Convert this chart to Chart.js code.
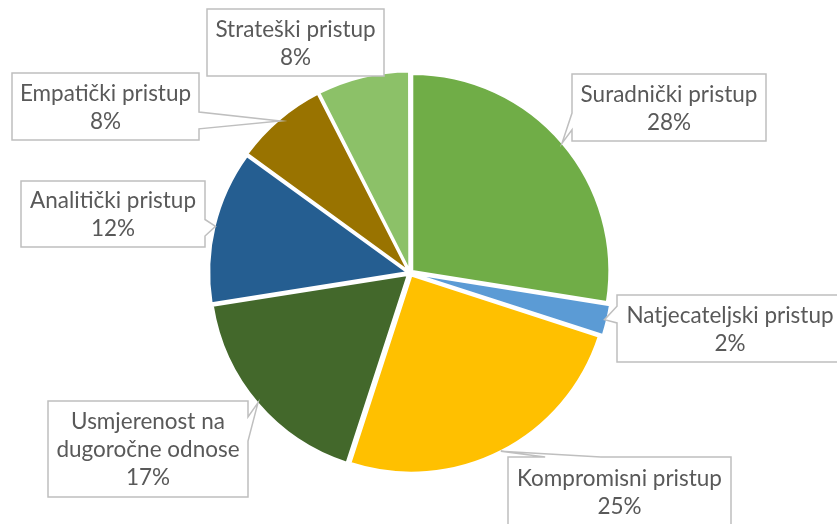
<!DOCTYPE html>
<html>
<head>
<meta charset="utf-8">
<script src="https://cdn.jsdelivr.net/npm/chart.js@4.4.1/dist/chart.umd.min.js"></script>
<style>
  html, body { margin: 0; padding: 0; background: #fff; }
  #wrap { width: 837px; height: 524px; }
</style>
</head>
<body>
<div id="wrap"><canvas id="pieChart" width="837" height="524"></canvas></div>
<script>
// chart data
const categories = [
  'Suradnički pristup',
  'Natjecateljski pristup',
  'Kompromisni pristup',
  'Usmjerenost na dugoročne odnose',
  'Analitički pristup',
  'Empatički pristup',
  'Strateški pristup'
];
const shares = [27.5, 2.5, 25, 17.5, 12.5, 7.5, 7.5];
const pctLabels = ['28%', '2%', '25%', '17%', '12%', '8%', '8%'];
const sliceColors = ['#70AD47', '#5B9BD5', '#FFC000', '#43682B', '#255E91', '#997300', '#8CC168'];

// where the callout boxes sit (placed by hand, like in the original)
const labelBoxes = [
  {x: 572, y: 74, w: 194, h: 67},
  {x: 617, y: 295, w: 226, h: 67},
  {x: 508, y: 457, w: 223, h: 70},
  {x: 48, y: 401, w: 200, h: 96},
  {x: 21, y: 181, w: 184, h: 66},
  {x: 12, y: 73, w: 187, h: 67},
  {x: 207, y: 9, w: 177, h: 67}
];

const FONT = '22.5px Lato, "Open Sans", sans-serif';

function wrapText(ctx, text, maxW) {
  const words = text.split(' ');
  const lines = [];
  let cur = '';
  words.forEach(w => {
    const test = cur ? cur + ' ' + w : w;
    if (cur && ctx.measureText(test).width > maxW) {
      lines.push(cur);
      cur = w;
    } else {
      cur = test;
    }
  });
  if (cur) lines.push(cur);
  return lines;
}

function calloutPath(ctx, b, px, py) {
  const cx = b.x + b.w / 2, cy = b.y + b.h / 2;
  // distance from the point to the box, no wedge when it is right next to it
  const gx = Math.max(b.x - px, 0, px - (b.x + b.w));
  const gy = Math.max(b.y - py, 0, py - (b.y + b.h));
  let side = null, f1 = 0, f2 = 0;
  if (Math.hypot(gx, gy) > 6) {
    const dx = (px - cx) / b.w, dy = (py - cy) / b.h;
    if (Math.abs(dx) > Math.abs(dy)) {
      side = dx < 0 ? 'left' : 'right';
      [f1, f2] = py > cy ? [7 / 12, 10 / 12] : [2 / 12, 5 / 12];
    } else {
      side = dy < 0 ? 'top' : 'bottom';
      [f1, f2] = px > cx ? [7 / 12, 10 / 12] : [2 / 12, 5 / 12];
    }
  }
  const {x, y, w, h} = b;
  ctx.beginPath();
  ctx.moveTo(x, y);
  if (side === 'top') { ctx.lineTo(x + w * f1, y); ctx.lineTo(px, py); ctx.lineTo(x + w * f2, y); }
  ctx.lineTo(x + w, y);
  if (side === 'right') { ctx.lineTo(x + w, y + h * f1); ctx.lineTo(px, py); ctx.lineTo(x + w, y + h * f2); }
  ctx.lineTo(x + w, y + h);
  if (side === 'bottom') { ctx.lineTo(x + w * f2, y + h); ctx.lineTo(px, py); ctx.lineTo(x + w * f1, y + h); }
  ctx.lineTo(x, y + h);
  if (side === 'left') { ctx.lineTo(x, y + h * f2); ctx.lineTo(px, py); ctx.lineTo(x, y + h * f1); }
  ctx.closePath();
}

const calloutLabels = {
  id: 'calloutLabels',
  afterDatasetsDraw(chart) {
    const ctx = chart.ctx;
    const meta = chart.getDatasetMeta(0);
    ctx.save();
    ctx.font = FONT;
    meta.data.forEach((arc, i) => {
      const p = arc.getProps(['x', 'y', 'startAngle', 'endAngle', 'outerRadius']);
      const mid = (p.startAngle + p.endAngle) / 2;
      const r = p.outerRadius + 3;
      const px = p.x + Math.cos(mid) * r;
      const py = p.y + Math.sin(mid) * r;
      const b = labelBoxes[i];

      calloutPath(ctx, b, px, py);
      ctx.fillStyle = '#ffffff';
      ctx.fill();
      ctx.lineWidth = 1.5;
      ctx.strokeStyle = '#bfbfbf';
      ctx.stroke();

      const lines = wrapText(ctx, categories[i], b.w - 10).concat([pctLabels[i]]);
      const lh = 28;
      const cy = b.y + b.h / 2 + 8;
      ctx.fillStyle = '#595959';
      ctx.textAlign = 'center';
      ctx.textBaseline = 'alphabetic';
      lines.forEach((ln, k) => {
        ctx.fillText(ln, b.x + b.w / 2, cy + (k - (lines.length - 1) / 2) * lh);
      });
    });
    ctx.restore();
  }
};

const ctx = document.getElementById('pieChart').getContext('2d');
new Chart(ctx, {
  type: 'pie',
  data: {
    labels: categories,
    datasets: [{
      data: shares,
      backgroundColor: sliceColors,
      borderColor: '#ffffff',
      borderWidth: 2,
      offset: 12
    }]
  },
  options: {
    responsive: false,
    animation: false,
    radius: 197,
    layout: { padding: { left: 0, right: 17, top: 22, bottom: 0 } },
    plugins: {
      legend: { display: false },
      tooltip: { enabled: false },
      title: { display: false }
    }
  },
  plugins: [calloutLabels]
});
</script>
</body>
</html>
